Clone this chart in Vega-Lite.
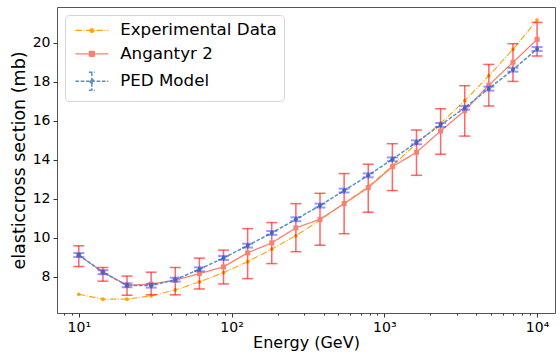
{
  "$schema": "https://vega.github.io/schema/vega-lite/v6.json",
  "width": 498,
  "height": 306,
  "autosize": {"type": "none"},
  "padding": {"left": 57, "top": 7, "right": 5, "bottom": 43},
  "config": {
    "font": "DejaVu Sans",
    "view": {"stroke": "#555555", "strokeWidth": 1},
    "axis": {"grid": false, "domain": false, "tickColor": "#333333", "labelColor": "#000000", "titleColor": "#000000", "labelFontSize": 14, "titleFontSize": 16, "titleFontWeight": "normal", "tickSize": 4, "labelPadding": 3},
    "legend": {"orient": "top-left", "offset": 8, "padding": 7, "fillColor": "rgba(255,255,255,0.85)", "strokeColor": "#d5d5d5", "cornerRadius": 4, "labelFontSize": 16.7, "labelColor": "#000000", "symbolSize": 100, "symbolStrokeWidth": 1.2, "symbolOffset": 11.5, "labelOffset": 20, "rowPadding": 5.5}
  },
  "data": {"values": [
    {"s": "Experimental Data", "E": 10, "y": 7.11},
    {"s": "Experimental Data", "E": 14.38, "y": 6.86},
    {"s": "Experimental Data", "E": 20.69, "y": 6.86},
    {"s": "Experimental Data", "E": 29.76, "y": 7.03},
    {"s": "Experimental Data", "E": 42.81, "y": 7.33},
    {"s": "Experimental Data", "E": 61.58, "y": 7.74},
    {"s": "Experimental Data", "E": 88.59, "y": 8.22},
    {"s": "Experimental Data", "E": 127.4, "y": 8.78},
    {"s": "Experimental Data", "E": 183.3, "y": 9.42},
    {"s": "Experimental Data", "E": 263.7, "y": 10.11},
    {"s": "Experimental Data", "E": 379.3, "y": 10.9},
    {"s": "Experimental Data", "E": 545.6, "y": 11.77},
    {"s": "Experimental Data", "E": 784.8, "y": 12.62},
    {"s": "Experimental Data", "E": 1128.8, "y": 13.68},
    {"s": "Experimental Data", "E": 1623.8, "y": 14.84},
    {"s": "Experimental Data", "E": 2335.7, "y": 15.86},
    {"s": "Experimental Data", "E": 3359.8, "y": 17.02},
    {"s": "Experimental Data", "E": 4832.9, "y": 18.3},
    {"s": "Experimental Data", "E": 6951.9, "y": 19.65},
    {"s": "Experimental Data", "E": 10000, "y": 21.15},
    {"s": "Angantyr 2", "E": 10, "y": 9.11, "lo": 8.53, "hi": 9.59},
    {"s": "Angantyr 2", "E": 14.38, "y": 8.24, "lo": 7.78, "hi": 8.48},
    {"s": "Angantyr 2", "E": 20.69, "y": 7.57, "lo": 7.06, "hi": 8.04},
    {"s": "Angantyr 2", "E": 29.76, "y": 7.63, "lo": 7.08, "hi": 8.24},
    {"s": "Angantyr 2", "E": 42.81, "y": 7.83, "lo": 7.08, "hi": 8.48},
    {"s": "Angantyr 2", "E": 61.58, "y": 8.17, "lo": 7.38, "hi": 8.96},
    {"s": "Angantyr 2", "E": 88.59, "y": 8.51, "lo": 7.64, "hi": 9.37},
    {"s": "Angantyr 2", "E": 127.4, "y": 9.23, "lo": 7.91, "hi": 10.47},
    {"s": "Angantyr 2", "E": 183.3, "y": 9.74, "lo": 8.68, "hi": 10.78},
    {"s": "Angantyr 2", "E": 263.7, "y": 10.51, "lo": 9.29, "hi": 11.75},
    {"s": "Angantyr 2", "E": 379.3, "y": 10.95, "lo": 9.62, "hi": 12.28},
    {"s": "Angantyr 2", "E": 545.6, "y": 11.75, "lo": 10.21, "hi": 13.29},
    {"s": "Angantyr 2", "E": 784.8, "y": 12.57, "lo": 11.31, "hi": 13.77},
    {"s": "Angantyr 2", "E": 1128.8, "y": 13.64, "lo": 12.42, "hi": 14.82},
    {"s": "Angantyr 2", "E": 1623.8, "y": 14.38, "lo": 13.2, "hi": 15.52},
    {"s": "Angantyr 2", "E": 2335.7, "y": 15.47, "lo": 14.28, "hi": 16.61},
    {"s": "Angantyr 2", "E": 3359.8, "y": 16.51, "lo": 15.21, "hi": 17.79},
    {"s": "Angantyr 2", "E": 4832.9, "y": 17.82, "lo": 16.75, "hi": 18.88},
    {"s": "Angantyr 2", "E": 6951.9, "y": 18.99, "lo": 18.01, "hi": 19.94},
    {"s": "Angantyr 2", "E": 10000, "y": 20.16, "lo": 19.31, "hi": 21.03},
    {"s": "PED Model", "E": 10, "y": 9.12, "lo": 9.02, "hi": 9.22},
    {"s": "PED Model", "E": 14.38, "y": 8.24, "lo": 8.14, "hi": 8.34},
    {"s": "PED Model", "E": 20.69, "y": 7.57, "lo": 7.47, "hi": 7.67},
    {"s": "PED Model", "E": 29.76, "y": 7.55, "lo": 7.45, "hi": 7.65},
    {"s": "PED Model", "E": 42.81, "y": 7.86, "lo": 7.76, "hi": 7.96},
    {"s": "PED Model", "E": 61.58, "y": 8.39, "lo": 8.29, "hi": 8.49},
    {"s": "PED Model", "E": 88.59, "y": 8.97, "lo": 8.87, "hi": 9.07},
    {"s": "PED Model", "E": 127.4, "y": 9.6, "lo": 9.5, "hi": 9.7},
    {"s": "PED Model", "E": 183.3, "y": 10.25, "lo": 10.15, "hi": 10.35},
    {"s": "PED Model", "E": 263.7, "y": 10.95, "lo": 10.85, "hi": 11.05},
    {"s": "PED Model", "E": 379.3, "y": 11.65, "lo": 11.55, "hi": 11.75},
    {"s": "PED Model", "E": 545.6, "y": 12.42, "lo": 12.32, "hi": 12.52},
    {"s": "PED Model", "E": 784.8, "y": 13.2, "lo": 13.1, "hi": 13.3},
    {"s": "PED Model", "E": 1128.8, "y": 14.02, "lo": 13.92, "hi": 14.12},
    {"s": "PED Model", "E": 1623.8, "y": 14.89, "lo": 14.79, "hi": 14.99},
    {"s": "PED Model", "E": 2335.7, "y": 15.78, "lo": 15.68, "hi": 15.88},
    {"s": "PED Model", "E": 3359.8, "y": 16.66, "lo": 16.56, "hi": 16.76},
    {"s": "PED Model", "E": 4832.9, "y": 17.64, "lo": 17.54, "hi": 17.74},
    {"s": "PED Model", "E": 6951.9, "y": 18.61, "lo": 18.51, "hi": 18.71},
    {"s": "PED Model", "E": 10000, "y": 19.67, "lo": 19.57, "hi": 19.77}
  ]},
  "resolve": {"axis": {"x": "independent"}},
  "layer": [
    {
      "mark": {"type": "line"},
      "encoding": {
        "x": {"field": "E", "type": "quantitative", "scale": {"type": "log", "domain": [7.2, 13100], "nice": false},
          "axis": {"orient": "bottom", "values": [10, 100, 1000, 10000], "labelExpr": "datum.value == 10 ? '10¹' : datum.value == 100 ? '10²' : datum.value == 1000 ? '10³' : '10⁴'", "title": "Energy (GeV)", "tickSize": 4, "titlePadding": 0}},
        "y": {"field": "y", "type": "quantitative", "scale": {"domain": [6.15, 21.82], "nice": false, "zero": false},
          "title": "elasticcross section (mb)",
          "axis": {"values": [8, 10, 12, 14, 16, 18, 20], "titlePadding": 4, "titleFontSize": 17.5}},
        "color": {"field": "s", "type": "nominal",
          "scale": {"domain": ["Experimental Data", "Angantyr 2", "PED Model"], "range": ["#ffa500", "#fa8072", "#5b8fc6"]},
          "legend": {"title": null, "encode": {"symbols": {"update": {
            "shape": {"signal": "datum.value === 'Experimental Data' ? 'M-3.3,0H3.3M-0.4,0A0.4,0.4,0,1,0,0.4,0A0.4,0.4,0,1,0,-0.4,0' : datum.value === 'Angantyr 2' ? 'M-3.3,0H3.3M-0.5,-0.5H0.5V0.5H-0.5Z' : 'M-3.3,0H3.3M0,-1.8V1.8M-0.6,-1.8H0.6M-0.6,1.8H0.6M-0.35,0A0.35,0.35,0,1,0,0.35,0A0.35,0.35,0,1,0,-0.35,0'"},
            "fill": {"scale": "color", "field": "value"}
          }}}}},
        "strokeDash": {"field": "s", "type": "nominal",
          "scale": {"domain": ["Experimental Data", "Angantyr 2", "PED Model"], "range": [[6.4, 1.6, 1, 1.6], [1, 0], [3.7, 1.6]]},
          "legend": {"title": null}},
        "strokeWidth": {"field": "s", "type": "nominal",
          "scale": {"domain": ["Experimental Data", "Angantyr 2", "PED Model"], "range": [1.1, 1.5, 1.1]}, "legend": null}
      }
    },
    {
      "transform": [{"filter": "datum.s === 'Experimental Data'"}],
      "mark": {"type": "circle", "size": 14, "color": "#ffa500", "opacity": 1},
      "encoding": {
        "x": {"field": "E", "type": "quantitative", "scale": {"type": "log", "domain": [7.2, 13100], "nice": false},
          "axis": {"orient": "bottom", "values": [8, 9, 20, 30, 40, 50, 60, 70, 80, 90, 200, 300, 400, 500, 600, 700, 800, 900, 2000, 3000, 4000, 5000, 6000, 7000, 8000, 9000], "labels": false, "tickSize": 2, "title": null}},
        "y": {"field": "y", "type": "quantitative", "title": "elasticcross section (mb)"}
      }
    },
    {
      "transform": [{"filter": "datum.s === 'Angantyr 2'"}],
      "mark": {"type": "rule", "color": "#ff0000", "opacity": 0.6, "strokeWidth": 1.5},
      "encoding": {
        "x": {"field": "E", "type": "quantitative", "axis": null},
        "y": {"field": "lo", "type": "quantitative", "title": "elasticcross section (mb)"},
        "y2": {"field": "hi"}
      }
    },
    {
      "transform": [{"filter": "datum.s === 'Angantyr 2'"}],
      "mark": {"type": "tick", "orient": "horizontal", "color": "#ff0000", "opacity": 0.6, "size": 11, "thickness": 1.5},
      "encoding": {
        "x": {"field": "E", "type": "quantitative", "axis": null},
        "y": {"field": "lo", "type": "quantitative", "title": "elasticcross section (mb)"}
      }
    },
    {
      "transform": [{"filter": "datum.s === 'Angantyr 2'"}],
      "mark": {"type": "tick", "orient": "horizontal", "color": "#ff0000", "opacity": 0.6, "size": 11, "thickness": 1.5},
      "encoding": {
        "x": {"field": "E", "type": "quantitative", "axis": null},
        "y": {"field": "hi", "type": "quantitative", "title": "elasticcross section (mb)"}
      }
    },
    {
      "transform": [{"filter": "datum.s === 'Angantyr 2'"}],
      "mark": {"type": "square", "size": 25, "color": "#fa8072", "opacity": 1},
      "encoding": {
        "x": {"field": "E", "type": "quantitative", "axis": null},
        "y": {"field": "y", "type": "quantitative", "title": "elasticcross section (mb)"}
      }
    },
    {
      "transform": [{"filter": "datum.s === 'PED Model'"}],
      "mark": {"type": "rule", "color": "#0000ff", "opacity": 0.5, "strokeWidth": 1.5},
      "encoding": {
        "x": {"field": "E", "type": "quantitative", "axis": null},
        "y": {"field": "lo", "type": "quantitative", "title": "elasticcross section (mb)"},
        "y2": {"field": "hi"}
      }
    },
    {
      "transform": [{"filter": "datum.s === 'PED Model'"}],
      "mark": {"type": "tick", "orient": "horizontal", "color": "#3333ff", "opacity": 0.5, "size": 11, "thickness": 2},
      "encoding": {
        "x": {"field": "E", "type": "quantitative", "axis": null},
        "y": {"field": "lo", "type": "quantitative", "title": "elasticcross section (mb)"}
      }
    },
    {
      "transform": [{"filter": "datum.s === 'PED Model'"}],
      "mark": {"type": "tick", "orient": "horizontal", "color": "#3333ff", "opacity": 0.5, "size": 11, "thickness": 2},
      "encoding": {
        "x": {"field": "E", "type": "quantitative", "axis": null},
        "y": {"field": "hi", "type": "quantitative", "title": "elasticcross section (mb)"}
      }
    },
    {
      "transform": [{"filter": "datum.s === 'PED Model'"}],
      "mark": {"type": "circle", "size": 16, "color": "#3a6db5", "opacity": 1},
      "encoding": {
        "x": {"field": "E", "type": "quantitative", "axis": null},
        "y": {"field": "y", "type": "quantitative", "title": "elasticcross section (mb)"}
      }
    }
  ]
}
